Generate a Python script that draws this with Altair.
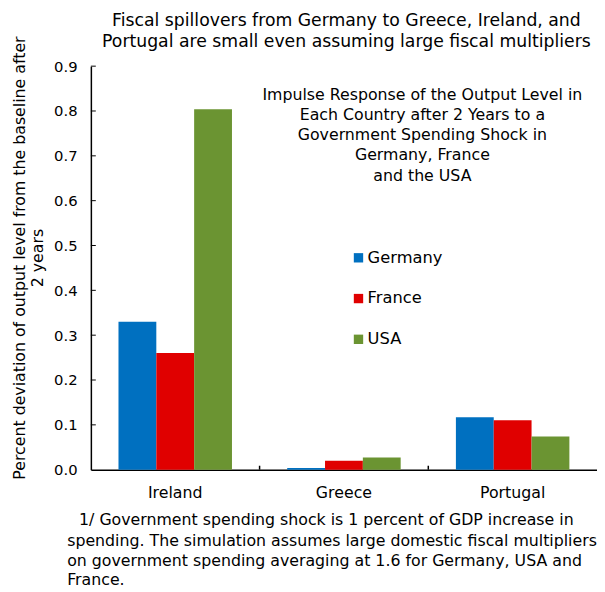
import altair as alt
import pandas as pd

countries = ["Ireland", "Greece", "Portugal"]
shock_origins = ["Germany", "France", "USA"]
germany = [0.330, 0.004, 0.117]
france = [0.260, 0.020, 0.110]
usa = [0.804, 0.027, 0.074]
colors = ["#0070C0", "#E00000", "#6B9432"]
y_ticks = [0.0, 0.1, 0.2, 0.3, 0.4, 0.5, 0.6, 0.7, 0.8, 0.9]
separators = ["Greece", "Portugal"]

title_text = ("Fiscal spillovers from Germany to Greece, Ireland, and\n"
              "Portugal are small even assuming large fiscal multipliers")
y_title = [
    "Percent deviation of output level from the baseline after",
    "2 years",
]
annotation = ("Impulse Response of the Output Level in\n"
              "Each Country after 2 Years to a\n"
              "Government Spending Shock  in\n"
              "Germany, France\n"
              "and the USA")
footnote_first = "1/ Government spending shock is 1 percent of GDP increase in"
footnote_rest = ("spending.  The simulation assumes large domestic fiscal multipliers\n"
                 "on government spending averaging at 1.6 for Germany, USA and\n"
                 "France.")

rows = []
for i, c in enumerate(countries):
    for s, vals in zip(shock_origins, [germany, france, usa]):
        rows.append({"country": c, "origin": s, "value": vals[i]})
df = pd.DataFrame(rows)

FONT = "DejaVu Sans"
W, H = 513, 409

x_scale = alt.Scale(domain=countries, paddingInner=0, paddingOuter=0)
y_scale = alt.Scale(domain=[0, 0.9], nice=False)

bars = alt.Chart(df).mark_bar().encode(
    x=alt.X("country:N", scale=x_scale, sort=countries,
            axis=alt.Axis(title=None, ticks=False, labelAngle=0, labelFontSize=16,
                          labelPadding=15, labelColor="black", labelFont=FONT,
                          domainColor="black", domainWidth=1.5)),
    xOffset=alt.XOffset("origin:N", sort=shock_origins,
                        scale=alt.Scale(domain=shock_origins, paddingOuter=0.73, paddingInner=0)),
    y=alt.Y("value:Q", scale=y_scale,
            axis=alt.Axis(values=y_ticks, format=".1f", ticks=False, grid=False,
                          labelFontSize=15, labelPadding=14, labelColor="black", labelFont=FONT,
                          domainColor="black", domainWidth=1.5,
                          title=y_title, titleFontSize=16, titleFontWeight="normal",
                          titleFont=FONT, titleColor="black", titlePadding=8, titleY=194,
                          titleLineHeight=18)),
    color=alt.Color("origin:N", sort=shock_origins,
                    scale=alt.Scale(domain=shock_origins, range=colors),
                    legend=alt.Legend(title=None, orient="none", legendX=263, legendY=186,
                                      symbolType="square", symbolSize=90, symbolStrokeWidth=0,
                                      labelFontSize=16.5, labelFont=FONT, labelColor="black",
                                      rowPadding=24.3, labelOffset=1)),
)

ytick_df = pd.DataFrame({"value": y_ticks[1:]})
yticks = alt.Chart(ytick_df).mark_rule(color="black", strokeWidth=1).encode(
    y=alt.Y("value:Q", scale=y_scale),
    x=alt.value(0), x2=alt.value(5),
)

sep_df = pd.DataFrame({"country": separators})
xticks = alt.Chart(sep_df).mark_rule(color="black", strokeWidth=1.5).encode(
    x=alt.X("country:N", bandPosition=0, scale=x_scale, sort=countries),
    y=alt.value(H - 4), y2=alt.value(H),
)

title = alt.Chart(pd.DataFrame({"t": [title_text]})).mark_text(
    align="center", baseline="middle", fontSize=17.5, lineHeight=22,
    lineBreak="\n", font=FONT, color="black",
).encode(text="t:N", x=alt.value(259), y=alt.value(-46))

note = alt.Chart(pd.DataFrame({"t": [annotation]})).mark_text(
    align="center", baseline="middle", fontSize=16, lineHeight=20.5,
    lineBreak="\n", font=FONT, color="black",
).encode(text="t:N", x=alt.value(336), y=alt.value(29))

foot1 = alt.Chart(pd.DataFrame({"t": [footnote_first]})).mark_text(
    align="left", baseline="middle", fontSize=16, font=FONT, color="black",
).encode(text="t:N", x=alt.value(-12), y=alt.value(460))

foot2 = alt.Chart(pd.DataFrame({"t": [footnote_rest]})).mark_text(
    align="left", baseline="middle", fontSize=16, lineHeight=20.2,
    lineBreak="\n", font=FONT, color="black",
).encode(text="t:N", x=alt.value(-24), y=alt.value(481))

chart = alt.layer(bars, yticks, xticks, title, note, foot1, foot2).properties(
    width=W, height=H,
    padding={"left": 84, "top": 55, "right": 0, "bottom": 118},
    autosize=alt.AutoSizeParams(type="none"),
).configure_view(stroke=None)

chart.save("out.html", embed_options={"renderer": "svg", "actions": False})
